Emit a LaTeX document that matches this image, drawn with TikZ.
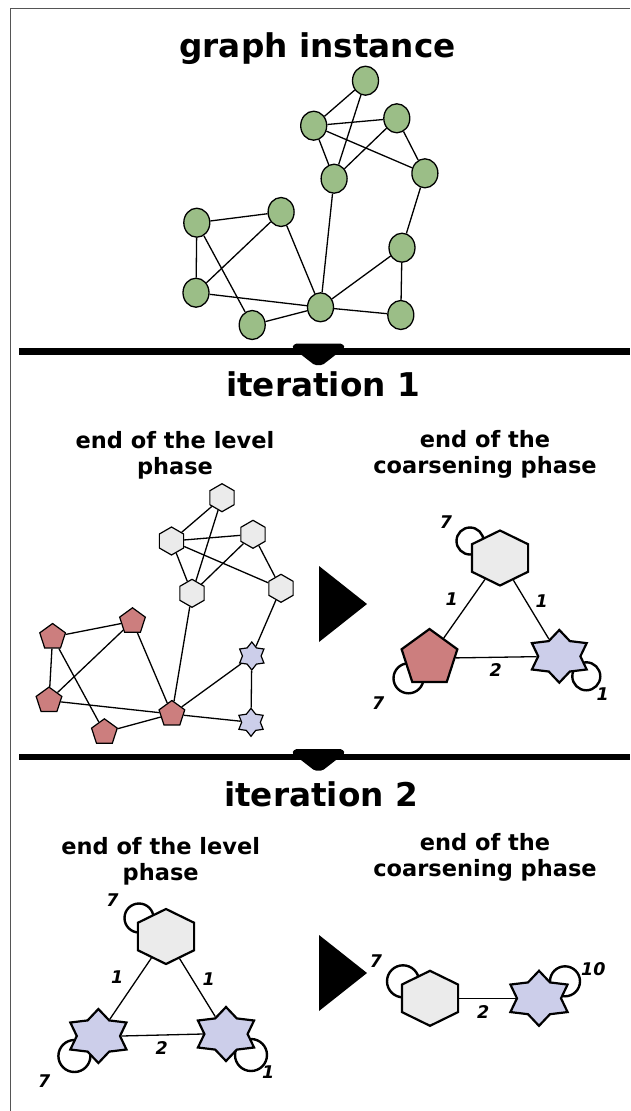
\documentclass[tikz,border=0pt]{standalone}
\usepackage{fontspec}
\setmainfont{DejaVu Sans}
\usetikzlibrary{shapes.geometric,backgrounds}

\definecolor{leafgreen}{RGB}{155,190,135}
\definecolor{rosered}{RGB}{204,126,126}
\definecolor{palegray}{RGB}{235,235,235}
\definecolor{lavender}{RGB}{204,206,234}
\definecolor{framegray}{RGB}{85,85,85}

\tikzset{
  vertex/.style={ellipse, draw=black, line width=1.3pt, fill=leafgreen,
    minimum width=26pt, minimum height=29pt, inner sep=0pt},
  hexa/.style={regular polygon, regular polygon sides=6, shape border rotate=30,
    draw=black, line width=1.2pt, fill=palegray, minimum size=28pt, inner sep=0pt},
  penta/.style={regular polygon, regular polygon sides=5,
    draw=black, line width=1.2pt, fill=rosered, minimum size=27pt, inner sep=0pt},
  sixstar/.style={star, star points=6, star point ratio=1.5,
    draw=black, line width=1.2pt, fill=lavender, minimum size=28pt, inner sep=0pt},
  bigshape/.style={line width=2.2pt},
  edgeline/.style={line width=1.3pt},
  loopline/.style={line width=2.4pt},
  titletext/.style={font=\fontsize{32.7}{39}\selectfont\bfseries, inner sep=0pt, anchor=base},
  subtext/.style={font=\fontsize{22.5}{26}\selectfont\bfseries, inner sep=0pt, anchor=base},
  weight/.style={font=\fontsize{17.5}{20}\selectfont\bfseries\itshape, inner sep=0pt},
  separator/.style={line width=6.5pt},
  marker/.style={fill=black, rounded corners=1.5pt},
}

\begin{document}
\begin{tikzpicture}[x=1pt, y=-1pt]
\useasboundingbox (0,0) rectangle (630,1111);

% outer frame (left and top)
\draw[framegray, line width=1.6pt] (10.5,1111) -- (10.5,8.5) -- (630,8.5);

% ---------- graph instance ----------
\node[titletext] (t0) at (317.5,57) {graph instance};

\node[vertex] (g1)  at (365.5,80.7) {};
\node[vertex] (g2)  at (313.7,125.7) {};
\node[vertex] (g3)  at (396.8,118.3) {};
\node[vertex] (g4)  at (334.1,178.7) {};
\node[vertex] (g5)  at (424.9,173.3) {};
\node[vertex] (g6)  at (196.8,222.7) {};
\node[vertex] (g7)  at (281.1,212) {};
\node[vertex] (g8)  at (402,247.7) {};
\node[vertex] (g9)  at (196,292.7) {};
\node[vertex] (g10) at (320.5,307.3) {};
\node[vertex] (g11) at (252.2,325) {};
\node[vertex] (g12) at (400.8,315) {};

\begin{pgfonlayer}{background}
\foreach \a/\b in {1/2,1/4,2/3,2/4,2/5,3/4,3/5,5/8,4/10,6/7,6/9,6/11,7/9,7/10,9/10,11/10,10/8,8/12,10/12}
  \draw[edgeline] (g\a) -- (g\b);
\end{pgfonlayer}

% separator 1
\draw[separator] (19,351.7) -- (630,351.7);
\fill[marker] (292,347.5) -- (295,343.5) -- (342,343.5) -- (345,347.5) -- (322.5,365) -- (314.5,365) -- cycle;

% ---------- iteration 1 ----------
\node[titletext] (t1) at (323,396) {iteration 1};
\node[subtext] (s1a) at (175,448) {end of the level};
\node[subtext] (s1b) at (175,474) {phase};
\node[subtext] (s1c) at (485,447) {end of the};
\node[subtext] (s1d) at (485,473) {coarsening phase};

\node[hexa]    (l1)  at (222,497.7) {};
\node[hexa]    (l2)  at (171.5,541) {};
\node[hexa]    (l3)  at (253,534.3) {};
\node[hexa]    (l4)  at (192,593.3) {};
\node[hexa]    (l5)  at (281,588.3) {};
\node[penta]   (l6)  at (52.6,637) {};
\node[penta]   (l7)  at (132.5,621.3) {};
\node[sixstar] (l8)  at (251.8,656) {};
\node[penta]   (l9)  at (49,700.6) {};
\node[penta]   (l10) at (171.9,714) {};
\node[penta]   (l11) at (104.4,732.3) {};
\node[sixstar] (l12) at (251,722.3) {};

\begin{pgfonlayer}{background}
\foreach \a/\b in {1/2,1/4,2/3,2/4,2/5,3/4,3/5,5/8,4/10,6/7,6/9,6/11,7/9,7/10,9/10,11/10,10/8,8/12,10/12}
  \draw[edgeline] (l\a) -- (l\b);
\end{pgfonlayer}

\fill (319,566) -- (367,604) -- (319,642) -- cycle;

\begin{scope}[shift={(500,558)}, xscale=1.18]
  \node[hexa, bigshape, minimum size=55pt, transform shape] (A) at (0,0) {};
\end{scope}
\node[penta, bigshape, minimum size=58.6pt] (B) at (429.5,658.3) {};
\begin{scope}[shift={(559.3,656.3)}, xscale=1.2]
  \node[sixstar, bigshape, minimum size=52.7pt, transform shape] (C) at (0,0) {};
\end{scope}

\begin{pgfonlayer}{background}
\draw[edgeline] (A) -- (B);
\draw[edgeline] (A) -- (C);
\draw[edgeline] (B) -- (C);
\draw[loopline] (A.center) ++(-30,-17) circle[radius=13.5];
\draw[loopline] (B.center) ++(-21,20) circle[radius=15];
\draw[loopline] (C.center) ++(27,20) circle[radius=14];
\end{pgfonlayer}

\node[weight] (wA)  at (446,521.7) {7};
\node[weight] (wAB) at (451.7,599.3) {1};
\node[weight] (wAC) at (541.7,600.7) {1};
\node[weight] (wBC) at (495.7,670) {2};
\node[weight] (wB)  at (378.3,702.7) {7};
\node[weight] (wC)  at (602.7,694) {1};

% separator 2
\draw[separator] (19,757) -- (630,757);
\fill[marker] (292,753) -- (295,749) -- (342,749) -- (345,753) -- (322.5,770.5) -- (314.5,770.5) -- cycle;

% ---------- iteration 2 ----------
\node[titletext] (t2) at (321,806.5) {iteration 2};
\node[subtext] (s2a) at (160.7,854) {end of the level};
\node[subtext] (s2b) at (160.7,880) {phase};
\node[subtext] (s2c) at (485,850) {end of the};
\node[subtext] (s2d) at (485,876.5) {coarsening phase};

\begin{scope}[shift={(166,936.5)}, xscale=1.18]
  \node[hexa, bigshape, minimum size=55pt, transform shape] (D) at (0,0) {};
\end{scope}
\begin{scope}[shift={(98.4,1036)}, xscale=1.2]
  \node[sixstar, bigshape, minimum size=54pt, transform shape] (E) at (0,0) {};
\end{scope}
\begin{scope}[shift={(226,1034)}, xscale=1.2]
  \node[sixstar, bigshape, minimum size=54pt, transform shape] (F) at (0,0) {};
\end{scope}

\begin{pgfonlayer}{background}
\draw[edgeline] (D) -- (E);
\draw[edgeline] (D) -- (F);
\draw[edgeline] (E.east) -- (F.west);
\draw[loopline] (D.center) ++(-27,-18.5) circle[radius=14.5];
\draw[loopline] (E.center) ++(-24,20) circle[radius=16];
\draw[loopline] (F.center) ++(25,21) circle[radius=16];
\end{pgfonlayer}

\node[weight] (wD)  at (112.4,900) {7};
\node[weight] (wDE) at (117.3,976.7) {1};
\node[weight] (wDF) at (208.8,979.3) {1};
\node[weight] (wEF) at (161.8,1047.7) {2};
\node[weight] (wE)  at (44.2,1081) {7};
\node[weight] (wF)  at (268.3,1071.7) {1};

\fill (319,935) -- (367,973) -- (319,1011) -- cycle;

\begin{scope}[shift={(430,998.3)}, xscale=1.18]
  \node[hexa, bigshape, minimum size=55pt, transform shape] (G) at (0,0) {};
\end{scope}
\begin{scope}[shift={(539,998.3)}, xscale=1.2]
  \node[sixstar, bigshape, minimum size=55pt, transform shape] (H) at (0,0) {};
\end{scope}

\begin{pgfonlayer}{background}
\draw[edgeline] (G) -- (H);
\draw[loopline] (G.center) ++(-27,-17) circle[radius=16];
\draw[loopline] (H.center) ++(26,-17) circle[radius=15];
\end{pgfonlayer}

\node[weight] (wGH) at (483.3,1011.7) {2};
\node[weight] (wG)  at (376,961) {7};
\node[weight] (wH)  at (593.3,969.3) {10};

\end{tikzpicture}
\end{document}
